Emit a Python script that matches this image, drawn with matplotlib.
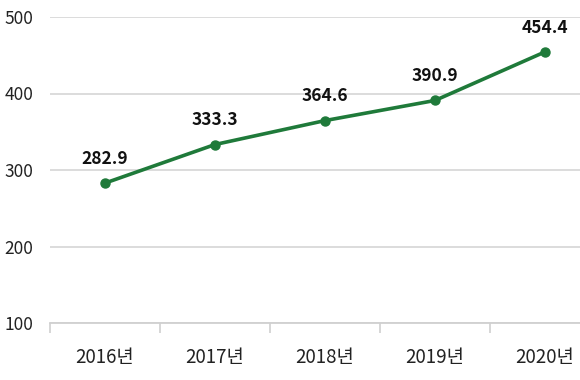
import matplotlib
matplotlib.use("Agg")
import matplotlib.pyplot as plt
import numpy as np

plt.rcParams["font.family"] = ["Noto Sans CJK KR", "DejaVu Sans"]

years = ["2016년", "2017년", "2018년", "2019년", "2020년"]
values = [282.9, 333.3, 364.6, 390.9, 454.4]
yticks = [100, 200, 300, 400, 500]

GREEN = "#1f7a3a"

fig = plt.figure(figsize=(5.8, 3.8), dpi=100)
ax = fig.add_axes([50 / 580, 1 - 323 / 380, 1 - 50 / 580, (323 - 17) / 380])

x = np.arange(len(years))
ax.plot(x, values, color=GREEN, lw=2.6, marker="o", ms=6.5, zorder=3)
for xi, v in zip(x, values):
    ax.annotate(f"{v:.1f}", (xi, v), xytext=(0, 11), textcoords="offset points",
                ha="center", va="bottom", fontsize=12.5, fontweight="bold", color="#111")

ax.set_yticks(yticks)
ax.yaxis.grid(True, color="#d9d9d9", lw=1.3)
ax.set_axisbelow(True)
ax.tick_params(axis="y", length=0, labelsize=12.5, pad=12, colors="#222")

ax.set_xticks(x)
ax.set_xticklabels(years)
ax.set_xticks(np.arange(-0.5, 4.6, 1), minor=True)
ax.tick_params(axis="x", which="major", length=0, labelsize=13.5, pad=17, colors="#222")
ax.tick_params(axis="x", which="minor", length=7, width=1.2, color="#d0d0d0")

ax.set_ylim(100, 500)
ax.set_xlim(-0.5, 4.5 - 20 / 110)

for s in ("top", "right", "left"):
    ax.spines[s].set_visible(False)
ax.spines["bottom"].set_color("#d0d0d0")
ax.spines["bottom"].set_linewidth(1.3)

fig.savefig("out.png", dpi=100)
